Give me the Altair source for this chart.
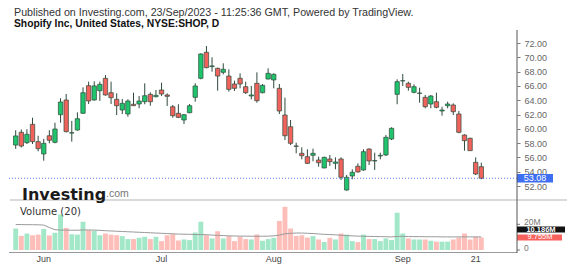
import altair as alt
import pandas as pd

# ---------------- data ----------------
opens = [57.73, 59.51, 58.06, 60.63, 58.2, 56.48, 59.03, 58.11, 61.97, 64.03,
         59.4, 59.83, 62.17, 66.03, 64.03, 65.33, 67.06, 65.05, 64.12, 62.63,
         62.07, 63.43, 63.47, 63.79, 64.82, 64.49, 65.43, 64.73, 63.09, 62.17,
         61.23, 62.25, 64.4, 67.06, 70.7, 68.7, 68.46, 67.9, 67.38, 66.27,
         67.06, 65.89, 64.59, 66.36, 65.05, 66.96, 66.83, 65.66, 61.93, 60.29,
         57.6, 56.57, 56.1, 56.29, 55.64, 54.52, 55.78, 55.17, 55.78, 51.44,
         53.4, 54.76, 54.24, 57.17, 55.5, 56.2, 56.34, 58.57, 64.82, 66.7,
         66.36, 65.1, 64.96, 64.4, 63.47, 63.79, 62.49, 63.23, 63.33, 62.07,
         59.13, 58.67, 55.31, 54.7]
highs = [59.8, 59.9, 59.93, 61.55, 59.03, 58.6, 59.8, 60.85, 64.27, 64.87,
         61.1, 62.3, 65.8, 66.59, 66.64, 66.6, 67.52, 66.59, 64.96, 64.17,
         64.12, 65.05, 64.59, 66.36, 65.1, 65.43, 66.45, 64.96, 63.33, 63.43,
         62.07, 63.47, 66.36, 70.56, 71.58, 70.0, 68.55, 69.16, 68.32, 66.73,
         67.76, 66.59, 65.99, 67.9, 66.27, 68.46, 67.76, 66.27, 64.35, 61.23,
         58.06, 57.41, 57.13, 57.22, 56.1, 56.1, 56.34, 56.01, 56.01, 53.54,
         54.34, 55.17, 57.13, 57.27, 56.66, 56.66, 59.13, 60.21, 66.92, 67.66,
         66.59, 66.22, 65.75, 64.73, 64.73, 65.05, 63.09, 63.79, 63.56, 62.49,
         59.23, 58.76, 56.01, 55.26]
lows = [57.2, 57.4, 57.87, 57.87, 56.85, 55.54, 57.97, 57.97, 60.85, 59.5,
        58.2, 59.73, 62.07, 63.47, 63.93, 63.9, 64.63, 63.47, 61.93, 62.07,
        61.69, 63.19, 62.87, 63.43, 63.23, 64.4, 64.59, 63.19, 61.55, 61.51,
        60.67, 62.17, 63.79, 66.92, 68.46, 67.99, 65.33, 67.62, 65.2, 65.29,
        65.66, 64.87, 64.12, 63.65, 64.96, 66.92, 65.66, 62.07, 58.43, 57.73,
        56.57, 55.73, 55.08, 55.45, 54.7, 54.48, 54.8, 54.34, 52.84, 51.34,
        52.94, 53.9, 54.14, 54.94, 54.24, 55.73, 56.2, 58.43, 63.43, 65.99,
        65.33, 64.96, 63.65, 62.87, 62.87, 62.87, 61.83, 62.87, 61.93, 59.37,
        56.94, 56.9, 53.54, 52.94]
closes = [59.0, 57.59, 59.23, 58.2, 57.22, 57.97, 58.39, 59.97, 63.75, 59.6,
          59.45, 61.41, 65.05, 63.89, 66.0, 66.22, 64.73, 64.35, 63.23, 63.56,
          63.89, 63.23, 63.89, 64.63, 63.79, 64.68, 64.87, 64.54, 61.83, 61.6,
          61.97, 63.23, 65.99, 70.46, 68.55, 68.8, 67.38, 68.32, 65.52, 65.66,
          66.27, 65.05, 64.73, 63.93, 66.08, 67.76, 67.62, 62.49, 59.03, 57.97,
          57.55, 56.24, 55.17, 56.57, 55.26, 56.01, 55.4, 55.36, 53.22, 53.22,
          53.92, 53.96, 56.8, 55.5, 55.55, 56.29, 58.81, 60.07, 66.59, 66.73,
          65.8, 65.89, 65.0, 63.09, 64.59, 63.0, 62.63, 63.47, 62.39, 59.51,
          58.34, 56.94, 53.68, 53.08]
volumes_m = [16.7, 11.0, 12.8, 11.5, 12.0, 16.4, 11.3, 13.4, 27.7, 17.2,
             12.3, 12.0, 22.0, 15.4, 15.0, 11.5, 12.8, 12.0, 11.5, 10.8,
             8.5, 8.5, 9.5, 10.3, 8.5, 10.3, 6.9, 11.5, 12.3, 7.4,
             8.2, 7.7, 13.6, 22.0, 11.5, 9.0, 14.6, 9.0, 10.8, 6.9,
             10.3, 8.5, 8.2, 12.0, 7.2, 8.5, 9.5, 22.6, 33.6, 16.7,
             11.0, 11.5, 9.7, 10.8, 8.2, 6.2, 9.5, 8.2, 12.8, 12.0,
             6.9, 6.2, 12.0, 8.5, 8.5, 6.9, 9.0, 7.7, 29.0, 12.8,
             9.0, 8.2, 8.2, 8.2, 7.2, 6.5, 6.5, 6.5, 8.2, 9.7,
             12.8, 8.2, 10.3, 9.755]
vol_ma_m = [19.8, 19.8, 19.7, 19.7, 19.6, 19.4, 17.5, 15.8, 15.5, 15.5,
            15.4, 15.4, 15.6, 15.6, 15.5, 15.3, 15.0, 14.8, 14.6, 14.4,
            14.2, 14.0, 13.8, 13.6, 13.4, 13.2, 13.0, 12.8, 12.6, 12.4,
            12.3, 12.2, 12.0, 12.0, 11.9, 11.6, 11.4, 11.2, 11.0, 10.9,
            10.8, 10.8, 10.7, 10.7, 10.7, 10.8, 11.0, 11.6, 12.6, 13.0,
            13.2, 13.2, 13.0, 12.8, 12.5, 12.2, 12.0, 11.8, 11.5, 11.2,
            11.0, 10.8, 10.7, 10.6, 10.5, 10.4, 10.3, 10.2, 10.6, 10.6,
            10.5, 10.4, 10.4, 10.3, 10.3, 10.3, 10.2, 10.2, 10.2, 10.2,
            10.2, 10.2, 10.2, 10.186]

price_ticks = [52, 54, 56, 58, 60, 62, 64, 66, 68, 70, 72]
month_tick_idx = [6, 27, 47, 70, 83]
month_tick_labels = ["Jun", "Jul", "Aug", "Sep", "21"]
vol_tick_vals = [0, 20]
vol_tick_labels = ["0", "20M"]
last_close = 53.08
last_volume_label = "9.755M"
vol_ma_label = "10.186M"

header_1 = "Published on Investing.com, 23/Sep/2023 - 11:25:36 GMT, Powered by TradingView."
header_2 = "Shopify Inc, United States, NYSE:SHOP, D"

# ---------------- styles ----------------
GREEN = "#1fc46c"
RED = "#f0625b"
VGREEN = "#a2e7c8"
VRED = "#fdbdb8"
EDGE = "#2f4a3c"
FONT = "Liberation Sans"

idx = list(range(1, len(opens) + 1))
df = pd.DataFrame({"i": idx, "open": opens, "high": highs, "low": lows,
                   "close": closes, "vol": volumes_m, "ma": vol_ma_m})
df["up"] = df["close"] >= df["open"]
df["fill"] = df["up"].map({True: GREEN, False: RED})
df["vfill"] = df["up"].map({True: VGREEN, False: VRED})

xscale = alt.Scale(domain=[1, len(idx)], range=[10.7, 486.3], nice=False, zero=False)
X = alt.X("i:Q", scale=xscale, axis=None)
pscale = alt.Scale(domain=[52, 72], range=[186, 43], nice=False, zero=False)
vscale = alt.Scale(domain=[0, 20], range=[250, 224.3], nice=False, zero=False)
PAXIS = alt.Axis(orient="right", values=price_ticks, format=".2f", domain=False,
                 grid=False, tickSize=3, tickColor="#777", labelColor="#666",
                 labelFontSize=9, labelFont=FONT, labelPadding=4, title=None)

# ---------------- price panel ----------------
wicks = alt.Chart(df).mark_rule(color=EDGE, strokeWidth=1).encode(
    x=X, y=alt.Y("low:Q", scale=pscale, axis=PAXIS), y2="high:Q")
bodies = alt.Chart(df).mark_bar(size=4.4, stroke=EDGE, strokeWidth=0.7).encode(
    x=X, y=alt.Y("open:Q", scale=pscale, axis=PAXIS), y2="close:Q",
    color=alt.Color("fill:N", scale=None))
last_df = pd.DataFrame({"v": [last_close], "t": [f"{last_close:.2f}"]})
last_line = alt.Chart(last_df).mark_rule(color="#5b7cf0", strokeDash=[1, 2], strokeWidth=1).encode(
    y=alt.Y("v:Q", scale=pscale, axis=PAXIS), x=alt.value(9), x2=alt.value(517))
last_box = alt.Chart(last_df).mark_tick(size=36, thickness=8.5, color="#3e6ff2", opacity=1).encode(
    y=alt.Y("v:Q", scale=pscale, axis=PAXIS), x=alt.value(535))
last_txt = alt.Chart(last_df).mark_text(color="white", fontSize=9, font=FONT, align="center",
                                        baseline="middle").encode(
    y=alt.Y("v:Q", scale=pscale, axis=PAXIS), x=alt.value(535), text="t:N")
price = alt.layer(wicks, bodies, last_line, last_box, last_txt)

# ---------------- volume panel ----------------
vbars = alt.Chart(df).mark_bar(size=4.9).encode(
    x=X, y=alt.Y("vol:Q", scale=vscale, axis=None),
    color=alt.Color("vfill:N", scale=None))
maline = alt.Chart(df).mark_line(color="#9a9a9a", strokeWidth=1).encode(
    x=X, y=alt.Y("ma:Q", scale=vscale, axis=None))
vt_df = pd.DataFrame({"v": vol_tick_vals, "t": vol_tick_labels})
vticks = alt.Chart(vt_df).mark_rule(color="#777").encode(
    y=alt.Y("v:Q", scale=vscale, axis=None), x=alt.value(517), x2=alt.value(520))
vlabels = alt.Chart(vt_df).mark_text(color="#777", fontSize=8.5, font=FONT, align="left",
                                     baseline="middle", dy=-2).encode(
    y=alt.Y("v:Q", scale=vscale, axis=None), x=alt.value(524), text="t:N")
vol_df = pd.DataFrame({"v": [volumes_m[-1]], "t": [last_volume_label]})
vbox = alt.Chart(vol_df).mark_tick(size=45, thickness=6, color="#f7625c", opacity=1).encode(
    y=alt.Y("v:Q", scale=vscale, axis=None), x=alt.value(539.5))
vtxt = alt.Chart(vol_df).mark_text(color="white", fontSize=7.5, font=FONT, align="center",
                                   baseline="middle").encode(
    y=alt.Y("v:Q", scale=vscale, axis=None), x=alt.value(540), text="t:N")
volume = alt.layer(vbars, maline, vticks, vlabels, vbox, vtxt)

# ---------------- frame & annotations ----------------
one = pd.DataFrame({"k": [0]})
frame = alt.layer(
    alt.Chart(one).mark_rule(color="#b5b5b5", strokeWidth=1.2).encode(
        x=alt.value(10), x2=alt.value(567), y=alt.value(200)),
    alt.Chart(one).mark_rule(color="#9a9a9a", strokeWidth=1).encode(
        x=alt.value(9), x2=alt.value(517), y=alt.value(252.5)),
    alt.Chart(one).mark_rule(color="#555", strokeWidth=1).encode(
        x=alt.value(517), y=alt.value(30), y2=alt.value(253)),
    alt.Chart(one).mark_rect(color="#111").encode(
        x=alt.value(517), x2=alt.value(565), y=alt.value(226.6), y2=alt.value(232.6)),
    alt.Chart(one).mark_text(color="white", fontSize=7.5, font=FONT, align="center",
                             baseline="middle", fontWeight="bold").encode(
        x=alt.value(541), y=alt.value(229.7), text=alt.value(vol_ma_label)),
    alt.Chart(one).mark_text(color="#333", fontSize=10.7, font=FONT, align="left").encode(
        x=alt.value(14), y=alt.value(12.5), text=alt.value(header_1)),
    alt.Chart(one).mark_text(color="#111", fontSize=10.3, font=FONT, fontWeight="bold",
                             align="left").encode(
        x=alt.value(14), y=alt.value(23.5), text=alt.value(header_2)),
    alt.Chart(one).mark_text(color="#1b1b1b", fontSize=16, font="DejaVu Sans",
                             fontWeight="bold", align="left").encode(
        x=alt.value(22), y=alt.value(194.5), text=alt.value("Investing")),
    alt.Chart(one).mark_text(color="#777", fontSize=10.5, font=FONT, align="left").encode(
        x=alt.value(106), y=alt.value(194), text=alt.value(".com")),
    alt.Chart(one).mark_text(color="#333", fontSize=10, font="DejaVu Sans", align="left").encode(
        x=alt.value(20), y=alt.value(211.5), text=alt.value("Volume (20)")),
)
mt_df = pd.DataFrame({"i": month_tick_idx, "t": month_tick_labels})
months = alt.Chart(mt_df).mark_text(color="#444", fontSize=9, font=FONT, baseline="middle").encode(
    x=X, y=alt.value(258.5), text="t:N")

chart = alt.layer(price, volume, frame, months).resolve_scale(y="independent").properties(
    width=517, height=252,
    autosize=alt.AutoSizeParams(type="none"),
    padding={"left": 0, "top": 0, "right": 60, "bottom": 14},
    background="white",
).configure_view(stroke=None)

chart.save("out.html", embed_options={"renderer": "svg", "actions": False})
